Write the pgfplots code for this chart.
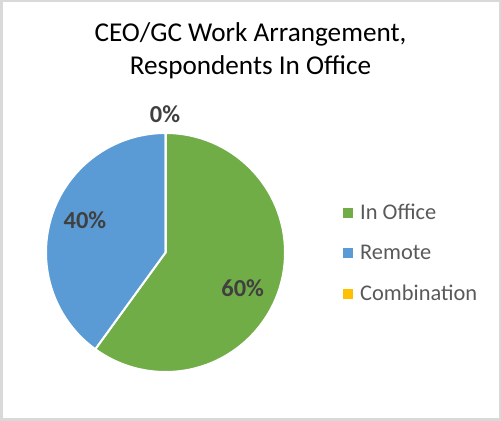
\documentclass[border=0pt]{standalone}
\usepackage{pgfplots}
\pgfplotsset{compat=1.18}
\usepackage{pgfplotstable}
\usepackage{fontspec}
\setmainfont{Carlito}

\definecolor{cOffice}{HTML}{70AD47}
\definecolor{cRemote}{HTML}{5B9BD5}
\definecolor{cCombo}{HTML}{FFC000}
\definecolor{labgray}{HTML}{404040}
\definecolor{leggray}{HTML}{595959}
\definecolor{framegray}{HTML}{D9D9D9}

% share of respondents, percent
\pgfplotstableread[col sep=comma]{
name,value
In Office,60
Remote,40
Combination,0
}\piedata

\pgfplotsset{sqlegend/.style={legend image code/.code={%
  \fill[##1] (0bp,-5bp) rectangle (10bp,5bp);}}}

\begin{document}
\begin{tikzpicture}
\pgfplotstablegetelem{0}{value}\of\piedata \let\vOffice\pgfplotsretval
\pgfplotstablegetelem{1}{value}\of\piedata \let\vRemote\pgfplotsretval
\pgfplotstablegetelem{2}{value}\of\piedata \let\vCombo\pgfplotsretval
\pgfmathsetmacro\aA{90-3.6*\vOffice}
\pgfmathsetmacro\aB{\aA-3.6*\vRemote}
\pgfmathsetmacro\aC{\aB-3.6*\vCombo}
\useasboundingbox (0,0) rectangle (501bp,421bp);
\begin{axis}[
  at={(0,0)}, anchor=south west,
  hide axis, scale only axis,
  width=501bp, height=421bp,
  xmin=0, xmax=501, ymin=0, ymax=421,
  clip=false,
  legend style={at={(axis cs:343,219)}, anchor=north west,
    draw=none, fill=none, text=leggray,
    font=\fontsize{22.5}{27}\selectfont,
    row sep=20bp, column sep=5bp, inner sep=0pt,
    nodes={inner sep=2pt}},
  legend cell align=left,
  sqlegend,
]
\addlegendimage{fill=cOffice, draw=none}
\addlegendentry{In Office}
\addlegendimage{fill=cRemote, draw=none}
\addlegendentry{Remote}
\addlegendimage{fill=cCombo, draw=none}
\addlegendentry{Combination}

\fill[cOffice, draw=white, line width=2bp] (axis cs:165.5,168.5) -- ++(90:119.5bp)
  arc[start angle=90, end angle=\aA, radius=119.5bp] -- cycle;
\fill[cRemote, draw=white, line width=2bp] (axis cs:165.5,168.5) -- ++(\aA:119.5bp)
  arc[start angle=\aA, end angle=\aB, radius=119.5bp] -- cycle;
\fill[cCombo, draw=white, line width=2bp] (axis cs:165.5,168.5) -- ++(\aB:119.5bp)
  arc[start angle=\aB, end angle=\aC-0.01, radius=119.5bp] -- cycle;

\node[font=\bfseries\fontsize{24.5}{29}\selectfont, text=labgray] at (axis cs:242.7,133.3) {\vOffice\%};
\node[font=\bfseries\fontsize{24.5}{29}\selectfont, text=labgray] at (axis cs:85,201) {\vRemote\%};
\node[font=\bfseries\fontsize{24.5}{29}\selectfont, text=labgray] at (axis cs:165,306.5) {\vCombo\%};

\node[anchor=base, font=\fontsize{27.3}{33}\selectfont] at (axis cs:250.5,379) {CEO/GC Work Arrangement,};
\node[anchor=base, font=\fontsize{27.3}{33}\selectfont] at (axis cs:250.5,346) {Respondents In Office};
\end{axis}
\draw[framegray, line width=2.5bp] (1.25bp,1.25bp) rectangle (499.75bp,419.75bp);
\end{tikzpicture}
\end{document}
